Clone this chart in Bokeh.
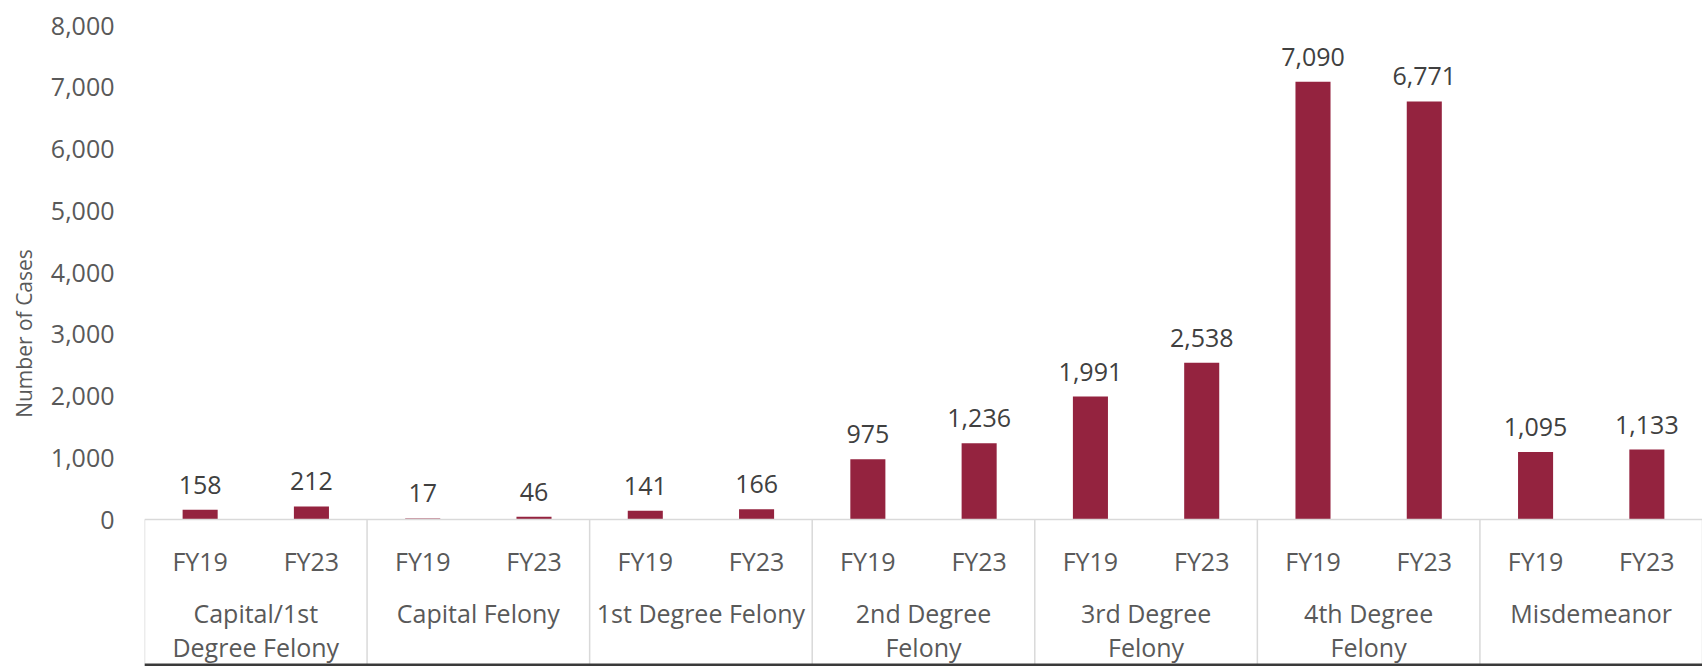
from bokeh.plotting import figure
from bokeh.models import FactorRange, Range1d, FixedTicker, NumeralTickFormatter, Span, ColumnDataSource
from bokeh.core.properties import value
from bokeh.embed import file_html
from bokeh.resources import INLINE

# ---- data ----
categories = ["Capital/1st\nDegree Felony", "Capital Felony", "1st Degree Felony",
              "2nd Degree\nFelony", "3rd Degree\nFelony", "4th Degree\nFelony", "Misdemeanor"]
years = ["FY19", "FY23"]
fy19 = [158, 17, 141, 975, 1991, 7090, 1095]
fy23 = [212, 46, 166, 1236, 2538, 6771, 1133]
y_ticks = [0, 1000, 2000, 3000, 4000, 5000, 6000, 7000, 8000]

# ---- styling constants ----
FONT_NAME = "Open Sans"
FONT = value(FONT_NAME)
BAR = "#94233F"
TXT = "#595959"
LBL = "#404040"
W, H = 1702, 666
PX = 1000 / 61.75          # data units per pixel
TOP_PX = 519               # frame pixels above the zero line
BOT_PX = H - TOP_PX        # frame pixels below the zero line

factors = [(c, y) for c in categories for y in years]
vals = []
for a, b in zip(fy19, fy23):
    vals += [a, b]
labels = [f"{v:,}" for v in vals]

src = ColumnDataSource(dict(x=factors, top=vals, lab=labels, yr=[f[1] for f in factors],
                            zero=[0] * len(factors)))

p = figure(width=W, height=H, output_backend="svg", toolbar_location=None,
           x_range=FactorRange(*factors, group_padding=0, factor_padding=0, range_padding=0),
           y_range=Range1d(-BOT_PX * PX, TOP_PX * PX),
           x_axis_location=None, min_border_left=144, min_border_right=0,
           min_border_top=0, min_border_bottom=0)
p.outline_line_color = None
p.xgrid.visible = False
p.ygrid.visible = False

# separators below the axis
sep_x = [(c, years[0], -0.5) for c in categories] + [(categories[-1], years[-1], 0.5)]
p.segment(x0=sep_x, x1=sep_x, y0=[0] * len(sep_x), y1=[-BOT_PX * PX] * len(sep_x),
          line_color="#D9D9D9", line_width=1.5)

p.add_layout(Span(location=0, dimension="width", line_color="#D9D9D9", line_width=1.5))
# dark rule along the bottom edge
p.add_layout(Span(location=-(BOT_PX - 1.5) * PX, dimension="width",
                  line_color="#3A3A3A", line_width=3))

p.vbar(x="x", top="top", width=0.315, source=src, fill_color=BAR, line_color=None)

# data labels
p.text(x="x", y="top", text="lab", source=src, text_font=FONT, text_font_size="25px",
       text_color=LBL, text_align="center", text_baseline="middle", y_offset=-25)

# sub-category labels
p.text(x="x", y="zero", text="yr", source=src, text_font=FONT, text_font_size="25px",
       text_color=TXT, text_align="center", text_baseline="middle", y_offset=41)

# category labels
cat_x = [(c, years[0], 0.5) for c in categories]
p.text(x=cat_x, y=[0] * len(categories), text=categories, text_font=FONT,
       text_font_size="25px", text_color=TXT, text_align="center",
       text_baseline="top", y_offset=76, text_line_height=1.0)

ax = p.yaxis[0]
ax.ticker = FixedTicker(ticks=y_ticks)
ax.formatter = NumeralTickFormatter(format="0,0")
ax.axis_line_color = None
ax.major_tick_line_color = None
ax.minor_tick_line_color = None
ax.major_tick_out = 0
ax.major_tick_in = 0
ax.major_label_standoff = 30
ax.major_label_text_font = FONT_NAME
ax.major_label_text_font_size = "25px"
ax.major_label_text_color = TXT
ax.axis_label = "Number of Cases"
ax.axis_label_text_font = FONT_NAME
ax.axis_label_text_font_size = "21px"
ax.axis_label_text_font_style = "normal"
ax.axis_label_text_color = TXT
ax.axis_label_standoff = 10

open("out.html", "w").write(file_html(p, INLINE))
